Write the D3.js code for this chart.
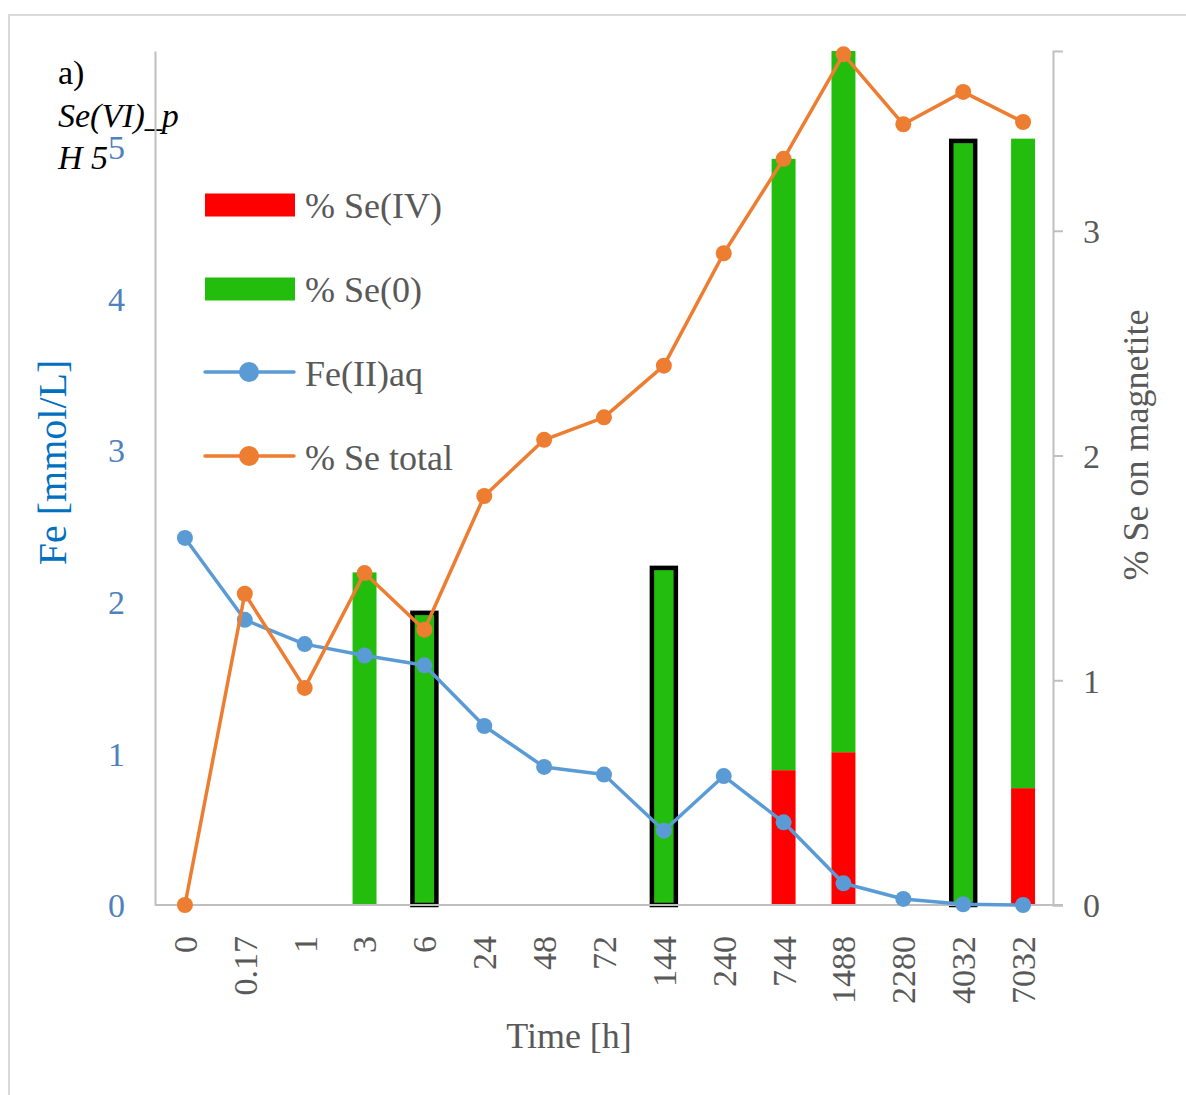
<!DOCTYPE html>
<html>
<head>
<meta charset="utf-8">
<script src="https://cdn.jsdelivr.net/npm/d3@7"></script>
<style>
  body { margin: 0; background: #fff; }
  text { font-family: "Liberation Serif", "DejaVu Serif", serif; }
</style>
</head>
<body>
<svg id="chart" width="1186" height="1095"></svg>
<script>
// categories (time, h)
const times = ["0", "0.17", "1", "3", "6", "24", "48", "72", "144", "240", "744", "1488", "2280", "4032", "7032"]
// % Se(IV) (red, bottom of stack), right axis
const seIV = [0, 0, 0, 0, 0, 0, 0, 0, 0, 0, 0.60, 0.68, 0, 0, 0.52]
// % Se(0) (green, on top), right axis
const se0 = [0, 0, 0, 1.48, 1.30, 0, 0, 0, 1.50, 0, 2.72, 3.12, 0, 3.40, 2.89]
// bars drawn with a black border
const outlined = ["6", "144", "4032"]
// Fe(II)aq, left axis
const feAq = [2.42, 1.88, 1.72, 1.645, 1.58, 1.18, 0.91, 0.86, 0.49, 0.85, 0.545, 0.143, 0.04, 0.005, 0.0]
// % Se total, right axis
const seTotal = [0, 1.385, 0.966, 1.477, 1.225, 1.82, 2.07, 2.17, 2.40, 2.90, 3.32, 3.785, 3.474, 3.618, 3.484]

const leftTicks = [0, 1, 2, 3, 4, 5]
const rightTicks = [0, 1, 2, 3]

const svg = d3.select("#chart")
const plot = {left: 155, right: 1053, top: 51, bottom: 905}

const x = d3.scaleBand().domain(times).range([plot.left, plot.right]).paddingInner(0).paddingOuter(0)
const yL = d3.scaleLinear().domain([0, 5.63]).range([plot.bottom, plot.top])
const yR = d3.scaleLinear().domain([0, 3.8]).range([plot.bottom, plot.top])

const blue = "#5B9BD5", orange = "#ED7D31", green = "#23BD0D", red = "#FF0000"
const grey = "#595959", axisGrey = "#BFBFBF"

// outer frame
svg.append("rect")
    .attr("x", 9).attr("y", 15).attr("width", 1200).attr("height", 1100)
    .attr("fill", "none").attr("stroke", "#D9D9D9").attr("stroke-width", 2)

// corner label
const tl = svg.append("text").attr("x", 58).attr("font-size", 34).attr("fill", "#000")
tl.append("tspan").attr("x", 58).attr("y", 84).text("a)")
tl.append("tspan").attr("x", 58).attr("y", 127).attr("font-style", "italic").text("Se(VI)_p")
tl.append("tspan").attr("x", 58).attr("y", 169).attr("font-style", "italic").text("H 5")

// axes
const axL = svg.append("g")
    .attr("transform", `translate(${plot.left},0)`)
    .call(d3.axisLeft(yL).tickValues(leftTicks).tickSize(0).tickPadding(30).tickFormat(d3.format("d")))
axL.select(".domain").attr("stroke", axisGrey).attr("stroke-width", 2)
axL.selectAll("text").attr("font-size", 34).attr("fill", "#4F81BD")
    .attr("font-family", "Liberation Serif").attr("dy", "0.35em")

const axR = svg.append("g")
    .attr("transform", `translate(${plot.right},0)`)
    .call(d3.axisRight(yR).tickValues(rightTicks).tickSize(10).tickPadding(20).tickFormat(d3.format("d")))
axR.select(".domain").attr("stroke", axisGrey).attr("stroke-width", 2)
axR.selectAll(".tick line").attr("stroke", axisGrey).attr("stroke-width", 2)
axR.selectAll("text").attr("font-size", 34).attr("fill", grey)
    .attr("font-family", "Liberation Serif").attr("dy", "0.35em")

const axB = svg.append("g")
    .attr("transform", `translate(0,${plot.bottom})`)
    .call(d3.axisBottom(x).tickSize(0).tickPadding(0))
axB.select(".domain").remove()
axB.selectAll("text")
    .attr("font-size", 34).attr("fill", grey).attr("font-family", "Liberation Serif")
    .attr("text-anchor", "end")
    .attr("transform", "rotate(-90)")
    .attr("x", -31).attr("y", 0).attr("dy", "0.35em")

// axis titles
svg.append("text")
    .attr("transform", `translate(66,${(355 + 570) / 2}) rotate(-90)`)
    .attr("text-anchor", "middle").attr("font-size", 40).attr("fill", "#0070C0")
    .text("Fe [mmol/L]")
svg.append("text")
    .attr("transform", `translate(1148,445) rotate(-90)`)
    .attr("text-anchor", "middle").attr("font-size", 36).attr("fill", grey)
    .text("% Se on magnetite")
svg.append("text")
    .attr("x", 569).attr("y", 1048)
    .attr("text-anchor", "middle").attr("font-size", 36).attr("fill", grey)
    .text("Time [h]")

// stacked bars
const bw = x.bandwidth() * 0.4
const barData = times.map((t, i) => ({t, iv: seIV[i], zero: se0[i]}))
const bars = svg.append("g")
bars.selectAll("rect.iv").data(barData.filter(d => d.iv > 0)).join("rect")
    .attr("x", d => x(d.t) + (x.bandwidth() - bw) / 2)
    .attr("width", bw)
    .attr("y", d => yR(d.iv))
    .attr("height", d => yR(0) - yR(d.iv))
    .attr("fill", red)
bars.selectAll("rect.zero").data(barData.filter(d => d.zero > 0)).join("rect")
    .attr("x", d => x(d.t) + (x.bandwidth() - bw) / 2)
    .attr("width", bw)
    .attr("y", d => yR(d.iv + d.zero))
    .attr("height", d => yR(d.iv) - yR(d.iv + d.zero))
    .attr("fill", green)
bars.selectAll("rect.outline").data(barData.filter(d => outlined.includes(d.t))).join("rect")
    .attr("x", d => x(d.t) + (x.bandwidth() - bw) / 2)
    .attr("width", bw)
    .attr("y", d => yR(d.iv + d.zero))
    .attr("height", d => yR(0) - yR(d.iv + d.zero))
    .attr("fill", "none").attr("stroke", "#000").attr("stroke-width", 4.5)

// x axis line on top of bars
svg.append("line")
    .attr("x1", plot.left).attr("x2", plot.right + 10)
    .attr("y1", plot.bottom).attr("y2", plot.bottom)
    .attr("stroke", axisGrey).attr("stroke-width", 2)

// lines
const cx = t => x(t) + x.bandwidth() / 2
function drawSeries(vals, y, color) {
  const pts = times.map((t, i) => [cx(t), y(vals[i])])
  svg.append("path")
      .attr("d", d3.line()(pts))
      .attr("fill", "none").attr("stroke", color).attr("stroke-width", 3.5)
      .attr("stroke-linejoin", "round")
  svg.append("g").selectAll("circle").data(pts).join("circle")
      .attr("cx", d => d[0]).attr("cy", d => d[1]).attr("r", 8)
      .attr("fill", color)
}
drawSeries(feAq, yL, blue)
drawSeries(seTotal, yR, orange)

// legend
const legend = svg.append("g")
const items = [
  {label: "% Se(IV)", type: "bar", color: red},
  {label: "% Se(0)", type: "bar", color: green},
  {label: "Fe(II)aq", type: "line", color: blue},
  {label: "% Se total", type: "line", color: orange}
]
items.forEach((it, i) => {
  const cy = 205 + i * 84
  if (it.type === "bar") {
    legend.append("rect").attr("x", 205).attr("y", cy - 11.5).attr("width", 90).attr("height", 23).attr("fill", it.color)
  } else {
    legend.append("line").attr("x1", 205).attr("x2", 294).attr("y1", cy - 1).attr("y2", cy - 1)
        .attr("stroke", it.color).attr("stroke-width", 3.5).attr("stroke-linecap", "round")
    legend.append("circle").attr("cx", 249).attr("cy", cy - 1).attr("r", 10).attr("fill", it.color)
  }
  legend.append("text").attr("x", 305).attr("y", cy).attr("dy", "0.35em")
      .attr("font-size", 36).attr("fill", grey).text(it.label)
})
</script>
</body>
</html>
